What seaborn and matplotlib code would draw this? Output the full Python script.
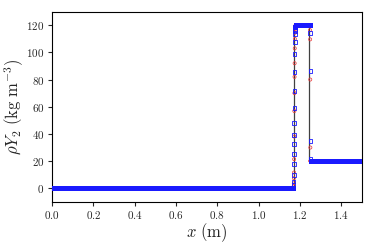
import numpy as np
import matplotlib
matplotlib.use("Agg")
import matplotlib.pyplot as plt
import seaborn as sns
from matplotlib.ticker import FuncFormatter

# exact solution (piecewise constant)
x_exact = [0.0, 1.17, 1.17, 1.245, 1.245, 1.5]
y_exact = [0.0, 0.0, 120.0, 120.0, 20.0, 20.0]

# numerical solutions, fine grid
dx = 0.0005
left_level = 0.0
mid_level_blue = 120.3
mid_level_red = 119.6
right_level = 20.0

# values across the left jump
blue_jump1 = [0.5, 2.4, 4.9, 9.8, 17.6, 25.2, 32.3, 39.2, 47.8, 58.8, 71.5,
              85.7, 99.0, 107.8, 113.5, 116.0, 117.5, 118.5, 119.2, 119.7, 120.0]
red_jump1 = [0.3, 1.5, 3.5, 7.3, 11.5, 21.3, 38.0, 56.8, 70.0, 82.0, 92.0,
             103.0, 110.0, 114.5, 117.0, 118.5, 119.3]
# values across the right jump
blue_jump2 = [114.4, 86.2, 34.8, 21.3]
red_jump2 = [116.4, 109.6, 80.0, 29.9]

x_grid = np.arange(0.0, 1.5 + 1e-9, dx)


def build(jump1, jump2, start1, start2, mid):
    n = len(x_grid)
    i1 = int(round(start1 / dx))
    i2 = int(round(start2 / dx))
    y = np.full(n, left_level)
    y[i1:i1 + len(jump1)] = jump1
    y[i1 + len(jump1):i2] = mid
    y[i2:i2 + len(jump2)] = jump2
    y[i2 + len(jump2):] = right_level
    return y


y_blue = build(blue_jump1, blue_jump2, 1.168, 1.2495, mid_level_blue)
y_red = build(red_jump1, red_jump2, 1.169, 1.2485, mid_level_red)

sns.set_style("ticks")
plt.rcParams["font.family"] = "serif"
plt.rcParams["font.serif"] = ["DejaVu Serif"]
plt.rcParams["mathtext.fontset"] = "cm"

fig = plt.figure(figsize=(3.74, 2.49), dpi=100)
ax = fig.add_axes([0.139, 0.19, 0.829, 0.763])

sns.lineplot(x=x_exact, y=y_exact, sort=False, estimator=None,
             color="#404040", linewidth=0.9, ax=ax)
sns.scatterplot(x=x_grid, y=y_red, marker="o", s=5, facecolor="none",
                edgecolor="#ee3333", linewidth=0.5, ax=ax, zorder=3)
sns.scatterplot(x=x_grid, y=y_blue, marker="s", s=7, facecolor="none",
                edgecolor="#1a1aff", linewidth=0.6, ax=ax, zorder=4)

ax.set_xlim(0, 1.5)
ax.set_ylim(-10, 130)
ax.set_xticks(np.arange(0, 1.41, 0.2))
ax.set_yticks(np.arange(0, 121, 20))
ax.xaxis.set_major_formatter(FuncFormatter(lambda v, p: rf"${v:.1f}$"))
ax.yaxis.set_major_formatter(FuncFormatter(lambda v, p: rf"${v:.0f}$"))
ax.tick_params(labelsize=8, length=3, width=0.8, pad=2.5)
for s in ax.spines.values():
    s.set_linewidth(0.8)
    s.set_color("black")

ax.set_xlabel(r"$x\ (\mathrm{m})$", fontsize=12, labelpad=0)
ax.set_ylabel(r"$\rho Y_2\ (\mathrm{kg\ m^{-3}})$", fontsize=12)
ax.yaxis.set_label_coords(-0.085, 0.5)

fig.savefig("out.png", dpi=100)
